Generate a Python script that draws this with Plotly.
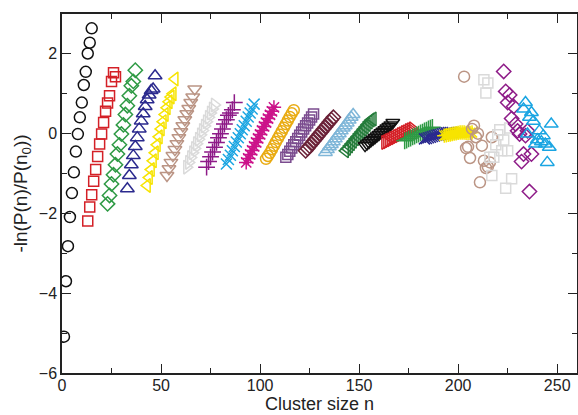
import plotly.graph_objects as go

# window start positions (cluster size n), each window has 15 consecutive n
starts = [1, 13, 23, 33, 43, 53, 63, 73, 83, 93, 103, 113, 123, 133, 143,
          153, 163, 173, 183, 193, 203, 213, 223, 233]

w00 = [-5.09, -3.70, -2.82, -2.09, -1.49, -0.97, -0.45, -0.01, 0.41, 0.78, 1.22, 1.55, 2.01, 2.28, 2.64]
w01 = [-2.19, -1.84, -1.53, -1.19, -0.90, -0.57, -0.26, -0.01, 0.28, 0.56, 0.77, 0.95, 1.31, 1.53, 1.43]
w02 = [-1.76, -1.55, -1.26, -1.03, -0.78, -0.51, -0.28, -0.01, 0.22, 0.48, 0.70, 0.95, 1.20, 1.31, 1.59]
w03 = [-1.38, -1.05, -0.78, -0.55, -0.32, -0.10, 0.12, 0.32, 0.50, 0.68, 0.85, 0.97, 1.08, 1.12, 1.45]
w04 = [-1.30, -1.10, -0.90, -0.68, -0.48, -0.28, -0.08, 0.12, 0.30, 0.48, 0.65, 0.80, 0.92, 1.00, 1.37]
w05 = [-1.05, -0.88, -0.72, -0.55, -0.40, -0.25, -0.10, 0.05, 0.20, 0.35, 0.50, 0.63, 0.78, 0.92, 1.12]
w06 = [-0.84, -0.72, -0.60, -0.48, -0.37, -0.25, -0.14, -0.03, 0.08, 0.19, 0.30, 0.41, 0.52, 0.62, 0.72]
w07 = [-0.84, -0.70, -0.58, -0.46, -0.34, -0.22, -0.10, 0.00, 0.12, 0.24, 0.35, 0.46, 0.52, 0.60, 0.78]
w08 = [-0.76, -0.65, -0.54, -0.43, -0.32, -0.21, -0.10, 0.00, 0.10, 0.20, 0.31, 0.42, 0.52, 0.62, 0.74]
w09 = [-0.72, -0.62, -0.52, -0.42, -0.32, -0.22, -0.12, -0.02, 0.08, 0.18, 0.28, 0.38, 0.47, 0.56, 0.66]
w10 = [-0.63, -0.56, -0.48, -0.39, -0.30, -0.21, -0.12, -0.03, 0.06, 0.15, 0.24, 0.33, 0.42, 0.51, 0.59]
w11 = [-0.59, -0.52, -0.44, -0.36, -0.28, -0.20, -0.12, -0.04, 0.04, 0.12, 0.20, 0.27, 0.34, 0.42, 0.49]
w12 = [-0.43, -0.37, -0.31, -0.25, -0.19, -0.13, -0.07, -0.01, 0.05, 0.11, 0.17, 0.23, 0.29, 0.35, 0.41]
w13 = [-0.47, -0.40, -0.33, -0.27, -0.20, -0.13, -0.06, 0.00, 0.07, 0.14, 0.20, 0.27, 0.34, 0.41, 0.48]
w14 = [-0.43, -0.37, -0.31, -0.25, -0.19, -0.13, -0.07, -0.01, 0.05, 0.11, 0.17, 0.23, 0.29, 0.34, 0.37]
w15 = [-0.30, -0.26, -0.22, -0.18, -0.14, -0.10, -0.06, -0.02, 0.02, 0.06, 0.10, 0.14, 0.18, 0.22, 0.28]
w16 = [-0.22, -0.20, -0.17, -0.15, -0.12, -0.10, -0.07, -0.05, -0.02, 0.00, 0.03, 0.05, 0.08, 0.10, 0.12]
w17 = [-0.18, -0.16, -0.13, -0.11, -0.08, -0.06, -0.03, -0.01, 0.02, 0.04, 0.07, 0.09, 0.12, 0.14, 0.16]
w18 = [-0.13, -0.12, -0.10, -0.09, -0.07, -0.06, -0.04, -0.03, -0.02, 0.00, 0.01, 0.02, 0.03, 0.03, 0.03]
w19 = [-0.05, -0.04, -0.03, -0.02, -0.01, 0.00, 0.01, 0.02, 0.03, 0.03, 0.03, 0.02, 0.02, 0.02, 0.03]
w20 = [1.43, -0.36, -0.33, -0.61, 0.12, 0.20, -0.09, 0.00, -1.22, -0.30, -0.68, -0.86, -0.83, -0.72, -0.09]
w21 = [1.35, 1.02, 1.27, -0.59, -1.05, -0.59, -0.28, -0.03, 0.10, -0.43, -0.16, -1.37, -0.43, 0.14, -1.13]
w22 = [1.56, 1.06, 0.78, 0.97, 0.38, 0.68, 0.24, 0.07, -0.01, -0.70, -0.51, -0.05, 0.07, -1.45, -0.51]
w23 = [0.62, 0.78, -0.01, 0.41, 0.53, 0.31, -0.26, -0.15, 0.07, -0.20, -0.05, -0.26, -0.72, -0.34, 0.24]

windows = [w00, w01, w02, w03, w04, w05, w06, w07, w08, w09, w10, w11, w12,
           w13, w14, w15, w16, w17, w18, w19, w20, w21, w22, w23]

x_title = "Cluster size n"
y_title = "-ln(P(n)/P(n<sub>0</sub>))"

palette = ["#111111", "#d42027", "#2e9a44", "#2b2a8e", "#f7e400",
           "#bb9585", "#dadada", "#8e1b88", "#1aa5e2", "#cc138a",
           "#e9ab12", "#7b4c8f", "#6b2238", "#7fb6d8", "#257c3b"]
symbols = ["circle-open", "square-open", "diamond-open", "triangle-up-open",
           "triangle-left-open", "triangle-down-open", "triangle-right-open",
           "cross-thin-open", "x-thin-open", "asterisk-open"]
sizes = {"circle-open": 11, "square-open": 10, "diamond-open": 11,
         "triangle-up-open": 12, "triangle-left-open": 12,
         "triangle-down-open": 12, "triangle-right-open": 12,
         "cross-thin-open": 12, "x-thin-open": 11, "asterisk-open": 12}

fig = go.Figure()
for i, (s, vals) in enumerate(zip(starts, windows)):
    ns = list(range(s, s + len(vals)))
    sym = symbols[i % len(symbols)]
    col = palette[i % len(palette)]
    fig.add_trace(go.Scatter(
        x=ns, y=vals, mode="markers",
        marker=dict(symbol=sym, size=sizes[sym], color=col,
                    line=dict(color=col, width=1.5)),
        showlegend=False, hoverinfo="skip"))

font_family = "Liberation Sans, Arial, sans-serif"
axis_common = dict(
    showgrid=False, zeroline=False, showline=True, linecolor="#222222",
    linewidth=1.5, mirror="allticks", ticks="inside", ticklen=9,
    tickwidth=1.3, tickcolor="#222222",
    tickfont=dict(family=font_family, size=16, color="#222222"),
    automargin=False,
)

fig.update_layout(
    width=578, height=415,
    margin=dict(l=62, r=1, t=14, b=42),
    paper_bgcolor="white", plot_bgcolor="white",
    xaxis=dict(range=[0, 260], tick0=0, dtick=50, ticklabelstandoff=-3,
               minor=dict(dtick=25, ticks="inside", ticklen=5, tickcolor="#222222"),
               **axis_common),
    yaxis=dict(range=[-6, 3], tick0=-6, dtick=2,
               minor=dict(dtick=1, ticks="inside", ticklen=5, tickcolor="#222222"),
               title=dict(text=y_title, standoff=6,
                          font=dict(family=font_family, size=19, color="#222222")),
               **axis_common),
    annotations=[dict(text=x_title, xref="paper", yref="paper", x=0.5, y=0,
                      xanchor="center", yanchor="middle", yshift=-31,
                      showarrow=False,
                      font=dict(family=font_family, size=18, color="#222222"))],
)

fig.write_html("out.html", config={"displayModeBar": False},
               post_script="document.body.style.margin='0';document.body.style.padding='0';")
